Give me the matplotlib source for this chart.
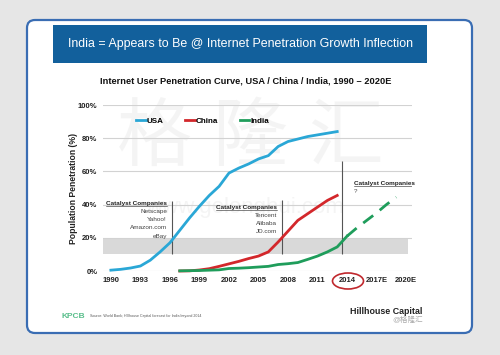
import numpy as np
import matplotlib
matplotlib.use("Agg")
import matplotlib.pyplot as plt
from matplotlib.patches import FancyBboxPatch, Rectangle, Ellipse

plt.rcParams['font.family'] = ['Liberation Sans', 'Noto Sans CJK SC', 'DejaVu Sans']

# data (population penetration, %)
usa_years = list(range(1990, 2014))
usa = [0.5, 1.0, 1.8, 3.0, 6.5, 11.5, 17.0, 24.5, 32.0, 39.0, 45.5, 51.0,
       59.0, 62.0, 64.5, 67.5, 69.5, 75.0, 78.0, 79.5, 81.0, 82.0, 83.0, 84.0]
china_years = list(range(1997, 2014))
china = [0.0, 0.1, 0.6, 1.4, 2.8, 4.3, 5.8, 7.5, 9.0, 11.5, 17.5, 24.0,
         30.5, 34.5, 38.5, 42.5, 45.5]
india_years = list(range(1997, 2015))
india = [0.1, 0.2, 0.3, 0.5, 0.7, 1.5, 1.7, 2.0, 2.4, 2.8, 3.9, 4.4,
         5.1, 7.0, 9.0, 11.5, 14.5, 21.0]
india_fc_years = list(range(2014, 2020))
india_fc = [21.0, 26.0, 30.5, 35.0, 40.0, 44.5]

tick_years = list(range(1990, 2021, 3))
tick_labels = ['1990', '1993', '1996', '1999', '2002', '2005', '2008', '2011',
               '2014', '2017E', '2020E']

catalyst_1 = ['Netscape', 'Yahoo!', 'Amazon.com', 'eBay']
catalyst_2 = ['Tencent', 'Alibaba', 'JD.com']

BLUE = '#2aa7d6'
RED = '#d3272b'
GREEN = '#1f9d5b'

fig = plt.figure(figsize=(5, 3.55), dpi=100)
fig.patch.set_facecolor('#e6e6e6')

# background layer in pixel units
bg = fig.add_axes([0, 0, 1, 1], zorder=0)
bg.set_xlim(0, 500)
bg.set_ylim(355, 0)
bg.axis('off')

card = FancyBboxPatch((27, 20), 445, 313, boxstyle='round,pad=0,rounding_size=8',
                      facecolor='white', edgecolor='#3a6db3', lw=1.6)
bg.add_patch(card)
bg.add_patch(Rectangle((53, 25), 374, 38, facecolor='#12609c', edgecolor='none'))
bg.text(240, 44.5, 'India = Appears to Be @ Internet Penetration Growth Inflection',
        color='white', fontsize=8.9, ha='center', va='center')
bg.text(246, 81, 'Internet User Penetration Curve, USA / China / India, 1990 \u2013 2020E',
        fontsize=6.65, fontweight='bold', ha='center', va='center', color='#111111')

# faint watermark
bg.text(250, 140, '格 隆 汇', fontsize=54, color='#9a9a9a', alpha=0.1,
        ha='center', va='center')
bg.text(245, 208, 'www.gelonghui.com', fontsize=16, color='#9a9a9a', alpha=0.1,
        ha='center', va='center')

# footer
bg.text(61, 317, 'KPCB', fontsize=6, fontweight='bold', color='#2fae6e',
        ha='left', va='center', alpha=0.8)
bg.text(90, 316, 'Source: World Bank; Hillhouse Capital forecast for India beyond 2014',
        fontsize=2.6, color='#555555', ha='left', va='center')
bg.text(422, 311, 'Hillhouse Capital', fontsize=6.4, fontweight='bold',
        color='#222222', ha='right', va='center')
bg.text(423, 320, '@格隆汇', fontsize=5.5, color='#aaaaaa', ha='right', va='center')

bg.add_patch(Ellipse((348, 281), 31, 16, facecolor='none', edgecolor='#c0282d',
                     lw=1.2, zorder=5))

# chart
ax = fig.add_axes([103 / 500, 84 / 355, 309 / 500, 166 / 355], zorder=2)
ax.patch.set_alpha(0)
ax.set_xlim(1989.2, 2020.6)
ax.set_ylim(0, 100)
for s in ax.spines.values():
    s.set_visible(False)
ax.set_yticks(range(0, 101, 20))
ax.set_yticklabels([f'{v}%' for v in range(0, 101, 20)])
ax.set_xticks(tick_years)
ax.set_xticklabels(tick_labels)
ax.tick_params(length=0, labelsize=5.5, colors='#222222', pad=4)
for lab in ax.get_xticklabels() + ax.get_yticklabels():
    lab.set_fontweight('bold')
ax.yaxis.grid(True, color='#d2d2d2', lw=0.8)
ax.set_axisbelow(True)
ax.set_ylabel('Population Penetration (%)', fontsize=6.2, fontweight='bold',
              color='#222222', labelpad=0)

ax.axhspan(10, 20, xmin=0, xmax=0.987, color='#d9d9d9', zorder=0.5, lw=0)

ax.vlines(1996.2, 10, 42, color='#555555', lw=0.8, zorder=1)
ax.vlines(2007.4, 10, 43, color='#555555', lw=0.8, zorder=1)
ax.vlines(2013.5, 10, 66, color='#555555', lw=0.8, zorder=1)

ax.plot(usa_years, usa, color=BLUE, lw=2, label='USA', clip_on=False, zorder=3)
ax.plot(china_years, china, color=RED, lw=2, label='China', clip_on=False, zorder=3)
ax.plot(india_years, india, color=GREEN, lw=2, label='India', clip_on=False, zorder=3)
ax.plot(india_fc_years, india_fc, color=GREEN, lw=2, ls=(0, (4.5, 3)), zorder=3)

ax.legend(loc='center', bbox_to_anchor=(0.322, 0.904), ncol=3, frameon=False,
          handlelength=1.2, handletextpad=0.1, columnspacing=2.7,
          prop={'size': 5.8, 'weight': 'bold'})

fig.canvas.draw()
renderer = fig.canvas.get_renderer()


def catalyst(x, y, items, ha):
    t = ax.text(x, y - 1.3, 'Catalyst Companies', fontsize=4.6, fontweight='bold',
                color='#222222', ha=ha, va='baseline')
    bb = t.get_window_extent(renderer).transformed(ax.transData.inverted())
    ax.plot([bb.x0, bb.x1], [y - 2.0, y - 2.0], color='#222222', lw=0.4)
    for i, name in enumerate(items):
        ax.text(x, y - 5 - i * 5, name, fontsize=4.6, color='#444444',
                ha=ha, va='center')


catalyst(1995.7, 41, catalyst_1, 'right')
catalyst(2006.9, 38.5, catalyst_2, 'right')
catalyst(2014.7, 53, ['?'], 'left')

fig.savefig('out.png', dpi=100, facecolor=fig.get_facecolor())
